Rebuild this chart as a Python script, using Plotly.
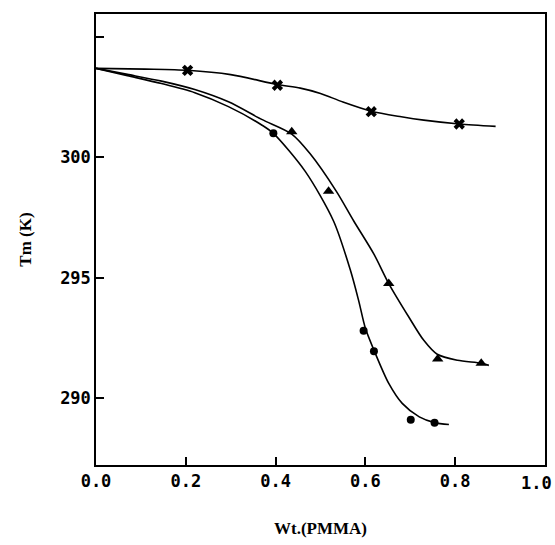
import plotly.graph_objects as go

# ---- data ----
# measured points
star_x = [0.204, 0.404, 0.613, 0.809]
star_y = [303.62, 303.00, 301.90, 301.39]

tri_x = [0.436, 0.518, 0.652, 0.761, 0.858]
tri_y = [301.07, 298.60, 294.76, 291.62, 291.45]

circ_x = [0.395, 0.596, 0.619, 0.701, 0.754]
circ_y = [301.00, 292.80, 291.95, 289.10, 288.98]

# drawn (hand-fitted) curves
star_curve_x = [0.0, 0.11, 0.204, 0.30, 0.404, 0.455, 0.50, 0.55, 0.613, 0.68, 0.73, 0.809, 0.89]
star_curve_y = [303.70, 303.67, 303.62, 303.44, 303.03, 302.88, 302.66, 302.30, 301.92, 301.69, 301.55, 301.39, 301.29]

tri_curve_x = [0.0, 0.07, 0.146, 0.22, 0.295, 0.369, 0.436, 0.477, 0.535, 0.574, 0.619, 0.652, 0.697, 0.73, 0.76, 0.805, 0.858, 0.875]
tri_curve_y = [303.70, 303.45, 303.17, 302.82, 302.31, 301.58, 300.97, 300.15, 298.60, 297.36, 295.98, 294.76, 293.36, 292.40, 291.82, 291.57, 291.45, 291.36]

circ_curve_x = [0.0, 0.07, 0.146, 0.22, 0.295, 0.369, 0.395, 0.466, 0.529, 0.567, 0.585, 0.60, 0.62, 0.652, 0.682, 0.72, 0.754, 0.786]
circ_curve_y = [303.70, 303.40, 303.07, 302.69, 302.11, 301.35, 301.00, 299.42, 297.36, 295.29, 294.05, 292.90, 291.95, 290.61, 289.78, 289.22, 288.98, 288.90]

x_ticks = [0.0, 0.2, 0.4, 0.6, 0.8, 1.0]
x_tick_text = ["0.0", "0.2", "0.4", "0.6", "0.8", ""]
x_last_label = "1.0"
y_ticks = [290, 295, 300, 305]
y_tick_text = ["290", "295", "300", ""]

fig = go.Figure()

line_style = dict(color="black", width=1.6, shape="spline", smoothing=0.8)
for cx, cy in [(star_curve_x, star_curve_y), (tri_curve_x, tri_curve_y), (circ_curve_x, circ_curve_y)]:
    fig.add_trace(go.Scatter(x=cx, y=cy, mode="lines", line=line_style, showlegend=False, hoverinfo="skip"))

fig.add_trace(go.Scatter(x=star_x, y=star_y, mode="markers",
                         marker=dict(symbol="x", size=10, color="black"), showlegend=False))
fig.add_trace(go.Scatter(x=tri_x, y=tri_y, mode="markers",
                         marker=dict(symbol="triangle-up", size=10, color="black"), showlegend=False))
fig.add_trace(go.Scatter(x=circ_x, y=circ_y, mode="markers",
                         marker=dict(symbol="circle", size=8, color="black"), showlegend=False))

tick_font = dict(family="DejaVu Sans Mono", size=17, color="black", weight="bold")
title_font = dict(family="Liberation Serif", size=17, color="black")

# last x tick label kept inside the page (it sits right at the page edge)
fig.add_annotation(x=1.0, xref="paper", y=0, yref="paper", text=x_last_label,
                   showarrow=False, xanchor="right", yanchor="top",
                   xshift=9, yshift=-6, font=tick_font)

fig.update_layout(
    width=555, height=545,
    margin=dict(l=96, r=10, t=14, b=80),
    paper_bgcolor="white", plot_bgcolor="white",
    font=dict(family="Liberation Serif", color="black"),
    xaxis=dict(
        range=[0, 1.0], tickvals=x_ticks, ticktext=x_tick_text,
        ticks="inside", ticklen=8, tickwidth=1.5, tickcolor="black",
        showline=True, linecolor="black", linewidth=1.5, mirror=True,
        showgrid=False, zeroline=False,
        automargin=False,
        tickfont=tick_font,
        title=dict(text="<b>Wt.(PMMA)</b>", font=title_font, standoff=32),
    ),
    yaxis=dict(
        range=[287.22, 305.96], tickvals=y_ticks, ticktext=y_tick_text,
        ticks="inside", ticklen=8, tickwidth=1.5, tickcolor="black",
        showline=True, linecolor="black", linewidth=1.5, mirror=True,
        showgrid=False, zeroline=False, automargin=False,
        tickfont=tick_font,
        title=dict(text="<b>Tm (K)</b>", font=title_font, standoff=24),
    ),
)

fig.write_html("out.html")
